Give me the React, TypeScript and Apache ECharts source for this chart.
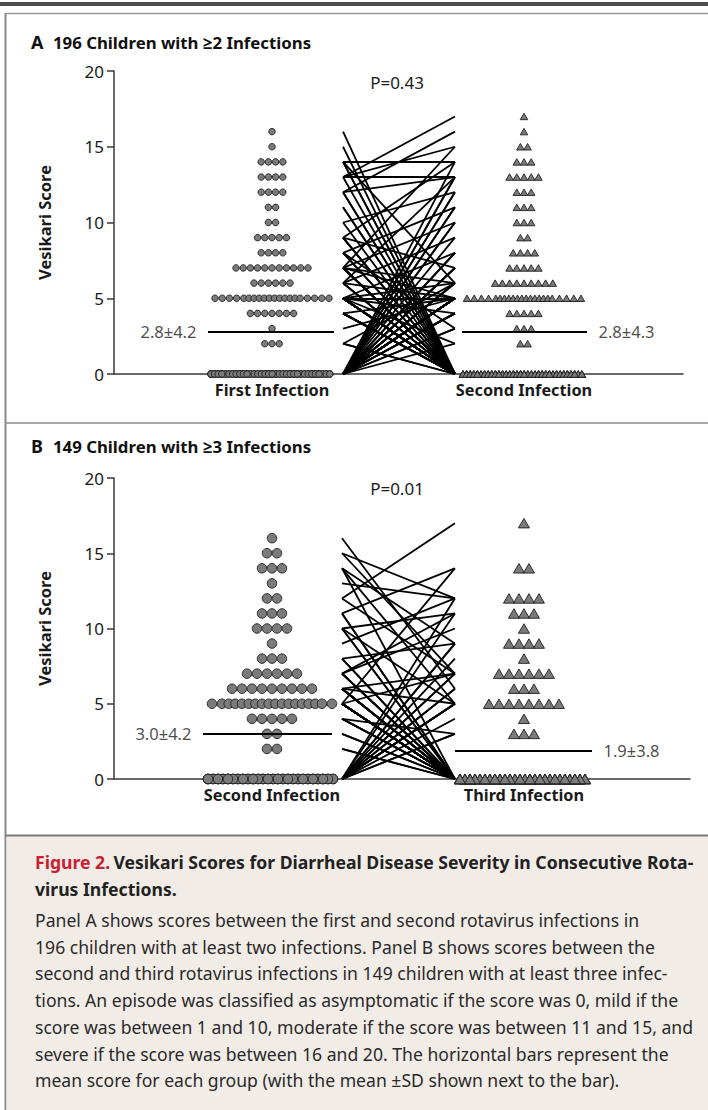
import React, { useEffect, useRef } from "react";
import * as echarts from "echarts";

// ---------------- DATA ----------------
const yTicks = [0, 5, 10, 15, 20];

const categoriesA = ["First Infection", "Second Infection"];
const categoriesB = ["Second Infection", "Third Infection"];
const titleA = "196 Children with \u22652 Infections";
const titleB = "149 Children with \u22653 Infections";
const pValueA = "P=0.43";
const pValueB = "P=0.01";
const meanA = [2.8, 2.8];
const sdA = [4.2, 4.3];
const meanB = [3.0, 1.9];
const sdB = [4.2, 3.8];

// Panel A: children with a nonzero score at both infections [first, second]
const bothA: [number, number][] = [
  [13, 17], [12, 16], [13, 15], [7, 15], [14, 14], [13, 13], [12, 13], [9, 14], [6, 13],
  [10, 12], [8, 11], [7, 10], [6, 9], [5, 8], [9, 7], [7, 6], [5, 6], [6, 5], [5, 5],
  [4, 5], [7, 5], [5, 4], [2, 6], [3, 5], [8, 3], [5, 2], [14, 6],
];
// Panel A: first infection score when the second was 0
const firstOnlyA = [
  16, 15, 14, 14, 13, 12, 12, 11, 11, 10, 9, 9, 9, 8, 8, 7, 7, 7, 7, 7, 7, 7, 6, 6, 6,
  5, 5, 5, 5, 5, 5, 5, 5, 5, 5, 5, 5, 5, 5, 5, 4, 4, 4, 4, 4, 4, 2, 2,
];
// Panel A: second infection score when the first was 0
const secondOnlyA = [
  14, 13, 13, 12, 12, 11, 11, 10, 10, 9, 8, 8, 8, 7, 7, 7, 7, 6, 6, 6, 6, 6,
  5, 5, 5, 5, 5, 5, 5, 5, 5, 5, 5, 5, 5, 5, 5, 5, 5, 4, 4, 4, 4, 3, 3, 2,
];
const zeroZeroA = 75;

// Panel B: [second, third]
const bothB: [number, number][] = [
  [16, 6], [15, 12], [15, 7], [14, 9], [14, 5], [13, 12], [12, 17], [12, 7], [11, 14],
  [10, 11], [10, 5], [9, 12], [8, 9], [7, 10], [7, 11], [6, 7], [6, 5], [5, 14], [5, 7], [4, 3],
];
const firstOnlyB = [
  14, 11, 11, 10, 10, 8, 8, 7, 7, 7, 7, 6, 6, 6, 6, 6, 6, 6,
  5, 5, 5, 5, 5, 5, 5, 5, 5, 5, 5, 5, 5, 5, 5, 5, 4, 4, 4, 4, 3, 3, 2, 2,
];
const secondOnlyB = [12, 11, 9, 9, 8, 7, 7, 6, 6, 5, 5, 5, 5, 5, 4, 3, 3];
const zeroZeroB = 70;

const captionTitleRed = "Figure 2.";
const captionTitle = [
  "Vesikari Scores for Diarrheal Disease Severity in Consecutive Rota-",
  "virus Infections.",
];
const captionBody = [
  "Panel A shows scores between the first and second rotavirus infections in",
  "196 children with at least two infections. Panel B shows scores between the",
  "second and third rotavirus infections in 149 children with at least three infec-",
  "tions. An episode was classified as asymptomatic if the score was 0, mild if the",
  "score was between 1 and 10, moderate if the score was between 11 and 15, and",
  "severe if the score was between 16 and 20. The horizontal bars represent the",
  "mean score for each group (with the mean \u00b1SD shown next to the bar).",
];

// ---------------- HELPERS ----------------
const FONT = "'Noto Sans', 'Open Sans', sans-serif";
const PX_PER_UNIT = 252;

function rowOffsets(n: number, step: number, maxHalf: number, edge: number): number[] {
  const full = ((n - 1) * step) / 2;
  if (full <= maxHalf) return Array.from({ length: n }, (_, i) => (i - (n - 1) / 2) * step);
  const inner = n - 2 * edge;
  const innerHalf = maxHalf - edge * step;
  const res: number[] = [];
  for (let i = 0; i < edge; i++) res.push(-maxHalf + i * step);
  for (let j = 0; j < inner; j++)
    res.push(inner > 1 ? -innerHalf + (j * 2 * innerHalf) / (inner - 1) : 0);
  for (let i = edge - 1; i >= 0; i--) res.push(maxHalf - i * step);
  return res;
}

// very crowded rows: dots share a limited set of slots (overplotted)
function slotOffsets(n: number, slotStep: number, half: number): number[] {
  const slots = Math.floor((2 * half) / slotStep) + 1;
  const res: number[] = [];
  for (let i = 0; i < n; i++) {
    const s = (i * 7) % slots;
    res.push(-half + s * slotStep);
  }
  return res;
}

function dots(values: number[], center: number, step: number, maxHalf: number, edge: number, slotStep: number) {
  const rows = new Map<number, number>();
  values.forEach((v) => rows.set(v, (rows.get(v) || 0) + 1));
  const out: number[][] = [];
  rows.forEach((n, score) => {
    const offs = n > 40 ? slotOffsets(n, slotStep, maxHalf + 4) : rowOffsets(n, step, maxHalf, edge);
    offs.forEach((o) => out.push([center + o / PX_PER_UNIT, score]));
  });
  return out;
}

function zeros(n: number) {
  return Array.from({ length: n }, () => 0);
}

type Panel = {
  grid: any;
  xmin: number;
  xmax: number;
  cats: string[];
  both: [number, number][];
  firstOnly: number[];
  secondOnly: number[];
  zeroZero: number;
  mean: number[];
  sd: number[];
  step: number;
  maxHalf: number;
  edge: number;
  slotStep: number;
  circle: number;
  tri: number[];
  xL: number;
  xR: number;
  meanHalfL: number[];
  meanHalfR: number[];
};

const panels: Panel[] = [
  {
    grid: { left: 114, top: 71, width: 569, height: 303 },
    xmin: 0.373, xmax: 2.631, cats: categoriesA,
    both: bothA, firstOnly: firstOnlyA, secondOnly: secondOnlyA, zeroZero: zeroZeroA,
    mean: meanA, sd: sdA, step: 7.2, maxHalf: 57, edge: 4, slotStep: 3.6, circle: 6.5, tri: [7.5, 6.5],
    xL: 1.282, xR: 1.726, meanHalfL: [0.254, 0.246], meanHalfR: [0.246, 0.25],
  },
  {
    grid: { left: 114, top: 478, width: 576, height: 301 },
    xmin: 0.373, xmax: 2.659, cats: categoriesB,
    both: bothB, firstOnly: firstOnlyB, secondOnly: secondOnlyB, zeroZero: zeroZeroB,
    mean: meanB, sd: sdB, step: 10, maxHalf: 60, edge: 1, slotStep: 5, circle: 9.5, tri: [11, 9.5],
    xL: 1.278, xR: 1.726, meanHalfL: [0.274, 0.238], meanHalfR: [0.274, 0.27],
  },
];

export default function App() {
  const ref = useRef<HTMLDivElement>(null);
  useEffect(() => {
    if (!ref.current) return;
    const chart = echarts.init(ref.current, undefined, { renderer: "svg" });
    const axisLineStyle = { color: "#3a3a3a", width: 1.5 };
    const series: any[] = [];
    panels.forEach((p, i) => {
      const firstVals = [
        ...p.both.map((d) => d[0]),
        ...p.firstOnly,
        ...zeros(p.secondOnly.length + p.zeroZero),
      ];
      const secondVals = [
        ...p.both.map((d) => d[1]),
        ...p.secondOnly,
        ...zeros(p.firstOnly.length + p.zeroZero),
      ];
      const lineData = [
        ...p.both.map(([a, b]) => ({ coords: [[p.xL, a], [p.xR, b]] })),
        ...p.firstOnly.map((a) => ({ coords: [[p.xL, a], [p.xR, 0]] })),
        ...p.secondOnly.map((b) => ({ coords: [[p.xL, 0], [p.xR, b]] })),
      ];
      series.push({
        type: "lines",
        coordinateSystem: "cartesian2d",
        xAxisIndex: i,
        yAxisIndex: i,
        silent: true,
        data: lineData,
        lineStyle: { color: "#000", width: 1.8, opacity: 1 },
        z: 2,
      });
      series.push({
        type: "scatter",
        xAxisIndex: i,
        yAxisIndex: i,
        clip: false,
        silent: true,
        symbol: "circle",
        symbolSize: p.circle,
        data: dots(firstVals, 1, p.step, p.maxHalf, p.edge, p.slotStep),
        itemStyle: { color: "#7b7b7b", borderColor: "#1e1e1e", borderWidth: 0.9, opacity: 1 },
        z: 3,
      });
      series.push({
        type: "scatter",
        xAxisIndex: i,
        yAxisIndex: i,
        clip: false,
        silent: true,
        symbol: "triangle",
        symbolSize: p.tri,
        data: dots(secondVals, 2, p.step, p.maxHalf, p.edge, p.slotStep),
        itemStyle: { color: "#7b7b7b", borderColor: "#1e1e1e", borderWidth: 0.9, opacity: 1 },
        z: 3,
      });
      // mean bars
      series.push({
        type: "lines",
        coordinateSystem: "cartesian2d",
        xAxisIndex: i,
        yAxisIndex: i,
        silent: true,
        data: [
          { coords: [[1 - p.meanHalfL[0], p.mean[0]], [1 + p.meanHalfL[1], p.mean[0]]] },
          { coords: [[2 - p.meanHalfR[0], p.mean[1]], [2 + p.meanHalfR[1], p.mean[1]]] },
        ],
        lineStyle: { color: "#000", width: 2, opacity: 1 },
        z: 4,
      });
      // mean labels
      series.push({
        type: "scatter",
        xAxisIndex: i,
        yAxisIndex: i,
        clip: false,
        silent: true,
        symbolSize: 1,
        itemStyle: { color: "rgba(0,0,0,0)" },
        data: [
          {
            value: [1 - p.meanHalfL[0], p.mean[0]],
            label: { position: "left", formatter: `${p.mean[0].toFixed(1)}\u00b1${p.sd[0].toFixed(1)}` },
          },
          {
            value: [2 + p.meanHalfR[1], p.mean[1]],
            label: { position: "right", formatter: `${p.mean[1].toFixed(1)}\u00b1${p.sd[1].toFixed(1)}` },
          },
        ],
        label: { show: true, distance: 11, fontSize: 16.5, color: "#1a1a1a", fontFamily: FONT },
        z: 5,
      });
    });

    const graphic: any[] = [
      { type: "rect", shape: { x: 0, y: 2, width: 708, height: 4 }, style: { fill: "#4d4d4d" }, silent: true },
      { type: "line", shape: { x1: 5, y1: 13.5, x2: 708, y2: 13.5 }, style: { stroke: "#9a9a9a", lineWidth: 1.5 }, silent: true },
      { type: "line", shape: { x1: 5.5, y1: 13, x2: 5.5, y2: 1110 }, style: { stroke: "#8a8a8a", lineWidth: 2 }, silent: true },
      { type: "line", shape: { x1: 5, y1: 423, x2: 708, y2: 423 }, style: { stroke: "#8a8a8a", lineWidth: 1.5 }, silent: true },
      { type: "rect", shape: { x: 6.5, y: 836, width: 702, height: 274 }, style: { fill: "#f2ece7" }, silent: true },
      { type: "line", shape: { x1: 5, y1: 835.5, x2: 708, y2: 835.5 }, style: { stroke: "#7a7a7a", lineWidth: 2 }, silent: true },
      // panel titles
      { type: "text", x: 31, y: 42, style: { text: "A", font: `bold 18px ${FONT}`, fill: "#111", verticalAlign: "middle" } },
      { type: "text", x: 53, y: 42, style: { text: titleA, font: `bold 16.8px ${FONT}`, fill: "#111", verticalAlign: "middle" } },
      { type: "text", x: 31, y: 446, style: { text: "B", font: `bold 18px ${FONT}`, fill: "#111", verticalAlign: "middle" } },
      { type: "text", x: 53, y: 446, style: { text: titleB, font: `bold 16.8px ${FONT}`, fill: "#111", verticalAlign: "middle" } },
      { type: "text", x: 397, y: 82, style: { text: pValueA, font: `17px ${FONT}`, fill: "#1a1a1a", align: "center", verticalAlign: "middle" } },
      { type: "text", x: 397, y: 488, style: { text: pValueB, font: `17px ${FONT}`, fill: "#1a1a1a", align: "center", verticalAlign: "middle" } },
      // caption
      {
        type: "text",
        x: 35,
        y: 862,
        style: {
          text: `{r|${captionTitleRed}} {b|${captionTitle[0]}}`,
          verticalAlign: "middle",
          rich: {
            r: { fill: "#c8202f", font: `bold 17.6px ${FONT}` },
            b: { fill: "#222", font: `bold 17.6px ${FONT}` },
          },
        },
      },
      { type: "text", x: 35, y: 889, style: { text: captionTitle[1], font: `bold 17.6px ${FONT}`, fill: "#222", verticalAlign: "middle" } },
      ...captionBody.map((t, k) => ({
        type: "text",
        x: 35,
        y: 920 + k * 26.7,
        style: { text: t, font: `17.6px ${FONT}`, fill: "#2a2a2a", verticalAlign: "middle" },
      })),
    ];

    chart.setOption({
      animation: false,
      textStyle: { fontFamily: FONT },
      grid: panels.map((p) => ({ ...p.grid, containLabel: false })),
      xAxis: panels.map((p, i) => ({
        type: "value",
        gridIndex: i,
        min: p.xmin,
        max: p.xmax,
        splitLine: { show: false },
        axisTick: { show: false },
        axisLine: { show: true, onZero: false, lineStyle: axisLineStyle },
        axisLabel: {
          customValues: [1, 2],
          formatter: (v: number) => p.cats[Math.round(v) - 1] ?? "",
          fontSize: 16.3,
          fontWeight: "bold",
          color: "#1a1a1a",
          margin: 8,
          fontFamily: FONT,
        },
      })),
      yAxis: panels.map((_, i) => ({
        type: "value",
        gridIndex: i,
        min: yTicks[0],
        max: yTicks[yTicks.length - 1],
        interval: yTicks[1] - yTicks[0],
        splitLine: { show: false },
        axisLine: { show: true, lineStyle: axisLineStyle },
        axisTick: { show: true, length: 7, lineStyle: axisLineStyle },
        axisLabel: { fontSize: 17, color: "#1a1a1a", margin: 10, fontFamily: FONT },
        name: "Vesikari Score",
        nameLocation: "middle",
        nameGap: 61,
        nameTextStyle: { fontSize: 16.5, fontWeight: "bold", color: "#1a1a1a", fontFamily: FONT },
      })),
      series,
      graphic,
    });
    return () => chart.dispose();
  }, []);
  return (
    <div style={{ position: "absolute", left: 0, top: 0, width: 708, height: 1110, background: "#fff" }}>
      <div ref={ref} style={{ width: 708, height: 1110 }} />
    </div>
  );
}
